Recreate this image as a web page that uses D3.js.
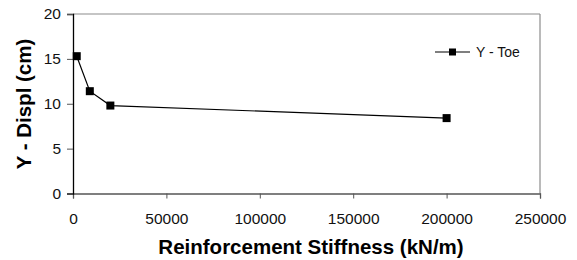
<!DOCTYPE html>
<html><head><meta charset="utf-8">
<script src="https://cdn.jsdelivr.net/npm/d3@7"></script>
<style>body{margin:0;background:#fff}svg{display:block}</style>
</head><body><svg id="c" width="577" height="260"></svg>
<script>
const stiffness = [2000, 9000, 20000, 200000];
const yToe = [15.3, 11.4, 9.8, 8.4];
const seriesName = "Y - Toe";
const xTicks = [0, 50000, 100000, 150000, 200000, 250000];
const yTicks = [0, 5, 10, 15, 20];

const svg = d3.select("#c");
const L = 73, R = 540, T = 14, B = 193.5;
const x = d3.scaleLinear().domain([0, 250000]).range([L, R]);
const y = d3.scaleLinear().domain([0, 20]).range([B, T]);
const font = "Arial, 'Liberation Sans', sans-serif";

// plot frame top/right
svg.append("line").attr("x1", L).attr("x2", R).attr("y1", T).attr("y2", T).attr("stroke", "#8c8c8c").attr("stroke-width", 1.2);
svg.append("line").attr("x1", R).attr("x2", R).attr("y1", T).attr("y2", B).attr("stroke", "#8c8c8c").attr("stroke-width", 1.2);

const xa = svg.append("g").attr("transform", `translate(0,${B})`)
  .call(d3.axisBottom(x).tickValues(xTicks).tickFormat(d3.format("d")).tickSizeOuter(0).tickSize(5).tickPadding(14));
xa.select(".domain").attr("stroke", "#555").attr("stroke-width", 1.3);
xa.selectAll(".tick line").attr("stroke", "#555");
xa.selectAll("text").attr("font-family", font).attr("font-size", 15.5).attr("fill", "#111");

const ya = svg.append("g").attr("transform", `translate(${L},0)`)
  .call(d3.axisLeft(y).tickValues(yTicks).tickFormat(d3.format("d")).tickSizeOuter(0).tickSize(6).tickPadding(6));
ya.select(".domain").attr("stroke", "#000").attr("stroke-width", 1.3);
ya.selectAll(".tick line").attr("stroke", "#555");
ya.selectAll("text").attr("font-family", font).attr("font-size", 15.5).attr("fill", "#111");

const data = stiffness.map((s, i) => ({s, v: yToe[i]}));
svg.append("path").datum(data)
  .attr("d", d3.line().x(d => x(d.s)).y(d => y(d.v)))
  .attr("fill", "none").attr("stroke", "#000").attr("stroke-width", 1.2);
svg.selectAll("rect.pt").data(data).enter().append("rect").attr("class", "pt")
  .attr("x", d => x(d.s) - 4).attr("y", d => y(d.v) - 4).attr("width", 8).attr("height", 8).attr("fill", "#000");

// legend
const lg = svg.append("g").attr("transform", "translate(435,52)");
lg.append("line").attr("x1", 0).attr("x2", 35).attr("y1", 0).attr("y2", 0).attr("stroke", "#000").attr("stroke-width", 1.2);
lg.append("rect").attr("x", 17.5 - 3.5).attr("y", -3.5).attr("width", 7).attr("height", 7).attr("fill", "#000");
lg.append("text").attr("x", 41).attr("y", 5).text(seriesName)
  .attr("font-family", font).attr("font-size", 14).attr("fill", "#111");

svg.append("text").attr("x", 311).attr("y", 254).attr("text-anchor", "middle")
  .attr("font-family", font).attr("font-weight", "bold").attr("font-size", 20.5).attr("fill", "#000")
  .text("Reinforcement Stiffness (kN/m)");
svg.append("text").attr("transform", "translate(31,104) rotate(-90)").attr("text-anchor", "middle")
  .attr("font-family", font).attr("font-weight", "bold").attr("font-size", 20.5).attr("fill", "#000")
  .text("Y - Displ (cm)");
</script></body></html>
